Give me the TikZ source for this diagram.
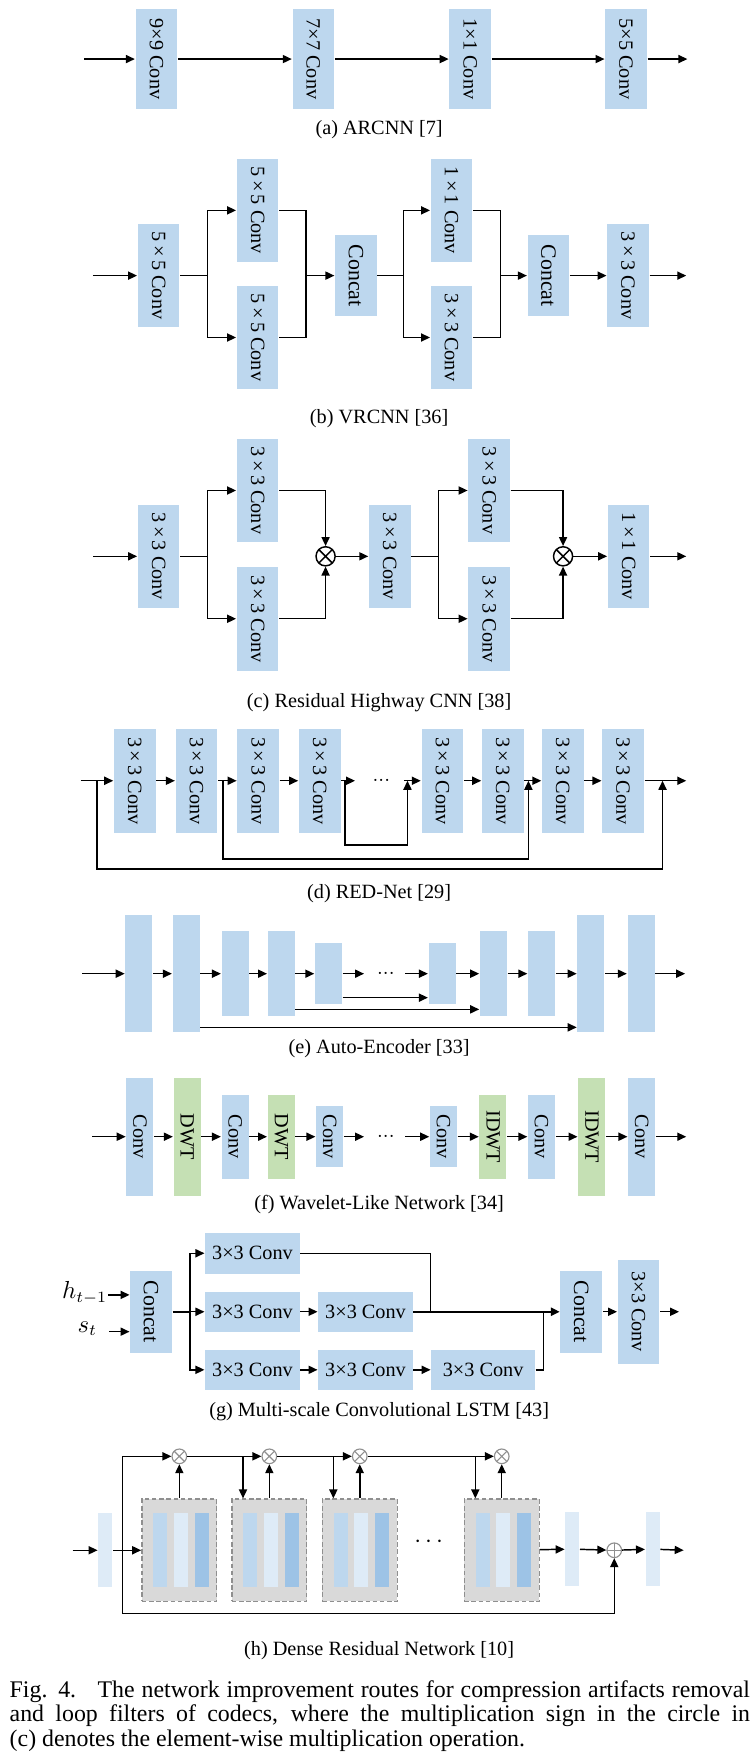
\documentclass[tikz,border=0pt]{standalone}
\usepackage{fontspec}
\setmainfont{Liberation Serif}
\usetikzlibrary{arrows.meta,calc}
\definecolor{cblue}{HTML}{BDD7EE}
\definecolor{cgreen}{HTML}{C5E0B4}
\definecolor{cgray}{HTML}{D9D9D9}
\definecolor{cedge}{HTML}{8F8F8F}
\definecolor{barA}{HTML}{BDD7EE}
\definecolor{barB}{HTML}{DEEBF7}
\definecolor{barC}{HTML}{9DC3E6}
\definecolor{cpale}{HTML}{DEEBF7}
\tikzset{
  arr/.style={-{Triangle[length=4pt,width=3.6pt]}},
  cv/.style={fill=cblue, inner sep=0pt, minimum width=18.5pt, minimum height=46pt, font=\fontsize{9}{10}\selectfont},
  cc/.style={cv, minimum height=36.3pt, font=\fontsize{9.7}{10}\selectfont},
  slim/.style={fill=cblue, inner sep=0pt, minimum width=12pt, font=\fontsize{9}{10}\selectfont},
  slimg/.style={slim, fill=cgreen},
  hbx/.style={fill=cblue, inner sep=0pt, minimum width=42pt, minimum height=18pt, font=\fontsize{9}{10}\selectfont},
  blk/.style={draw=cedge, dash pattern=on 2pt off 1.2pt, fill=cgray, line width=0.6pt, inner sep=0pt, minimum width=33.3pt, minimum height=45.5pt},
  bar/.style={inner sep=0pt, minimum width=6.2pt, minimum height=33pt},
  pl/.style={fill=cpale, inner sep=0pt, minimum width=6.2pt, minimum height=33pt},
  otimes/.style={circle, draw=#1, inner sep=0pt, minimum size=8.5pt, path picture={\draw[#1] (path picture bounding box.north east) -- (path picture bounding box.south west) (path picture bounding box.north west) -- (path picture bounding box.south east);}},
  otimes/.default=black,
  oplus/.style={circle, draw=#1, inner sep=0pt, minimum size=6pt, path picture={\draw[#1] (path picture bounding box.north) -- (path picture bounding box.south) (path picture bounding box.west) -- (path picture bounding box.east);}},
  oplus/.default=black,
  subcap/.style={font=\fontsize{9}{10}\selectfont, inner sep=0pt},
  dotsn/.style={font=\fontsize{9}{10}\selectfont, inner sep=0pt},
}
\begin{document}
\begin{tikzpicture}[x=0.5pt,y=-0.5pt,line width=0.65pt]
\useasboundingbox (0,0) rectangle (672,1568);

% ---------------- (a)
\node[cv, minimum height=44.5pt] (a1) at (139,52.5) {\rotatebox{-90}{9×9 Conv}};
\node[cv, minimum height=44.5pt] (a2) at (278.5,52.5) {\rotatebox{-90}{7×7 Conv}};
\node[cv, minimum height=44.5pt] (a3) at (418,52.5) {\rotatebox{-90}{1×1 Conv}};
\node[cv, minimum height=44.5pt] (a4) at (556.5,52.5) {\rotatebox{-90}{5×5 Conv}};
\coordinate (ain) at (75,52.5);
\coordinate (aout) at (611,52.5);
\draw[arr] (ain) -- (a1);
\draw[arr] (a1) -- (a2);
\draw[arr] (a2) -- (a3);
\draw[arr] (a3) -- (a4);
\draw[arr] (a4) -- (aout);
\node[subcap] (capa) at (337,115) {(a) ARCNN [7]};

% ---------------- (b)
\node[cv] (b1) at (141,245) {\rotatebox{-90}{5\,×\,5 Conv}};
\node[cv] (b2) at (229,187) {\rotatebox{-90}{5\,×\,5 Conv}};
\node[cv] (b3) at (229,300) {\rotatebox{-90}{5\,×\,5 Conv}};
\node[cc] (b4) at (316.4,245) {\rotatebox{-90}{Concat}};
\node[cv] (b5) at (401.4,187) {\rotatebox{-90}{1\,×\,1 Conv}};
\node[cv] (b6) at (401.4,300) {\rotatebox{-90}{3\,×\,3 Conv}};
\node[cc] (b7) at (487.5,245) {\rotatebox{-90}{Concat}};
\node[cv] (b8) at (558.3,245) {\rotatebox{-90}{3\,×\,3 Conv}};
\coordinate (bin) at (82.5,245);
\coordinate (bs1) at (184.5,245);
\coordinate (bm1) at (272,245);
\coordinate (bs2) at (358.6,245);
\coordinate (bm2) at (445,245);
\coordinate (bout) at (610,245);
\draw[arr] (bin) -- (b1);
\draw (b1) -- (bs1);
\draw[arr] (bs1) |- (b2);
\draw[arr] (bs1) |- (b3);
\draw (b2) -| (bm1);
\draw (b3) -| (bm1);
\draw[arr] (bm1) -- (b4);
\draw (b4) -- (bs2);
\draw[arr] (bs2) |- (b5);
\draw[arr] (bs2) |- (b6);
\draw (b5) -| (bm2);
\draw (b6) -| (bm2);
\draw[arr] (bm2) -- (b7);
\draw[arr] (b7) -- (b8);
\draw[arr] (b8) -- (bout);
\node[subcap] (capb) at (337,372) {(b) VRCNN [36]};

% ---------------- (c)
\node[cv] (c1) at (141,494.5) {\rotatebox{-90}{3\,×\,3 Conv}};
\node[cv] (c2) at (229,436) {\rotatebox{-90}{3\,×\,3 Conv}};
\node[cv] (c3) at (229,550) {\rotatebox{-90}{3\,×\,3 Conv}};
\node[otimes] (ot1) at (289.4,494.5) {};
\node[cv] (c4) at (346.5,494.5) {\rotatebox{-90}{3\,×\,3 Conv}};
\node[cv] (c5) at (434.8,436) {\rotatebox{-90}{3\,×\,3 Conv}};
\node[cv] (c6) at (434.8,550) {\rotatebox{-90}{3\,×\,3 Conv}};
\node[otimes] (ot2) at (500.5,494.5) {};
\node[cv] (c7) at (558.8,494.5) {\rotatebox{-90}{1\,×\,1 Conv}};
\coordinate (cin) at (83,494.5);
\coordinate (cs1) at (184.5,494.5);
\coordinate (cs2) at (390,494.5);
\coordinate (cout) at (610,494.5);
\draw[arr] (cin) -- (c1);
\draw (c1) -- (cs1);
\draw[arr] (cs1) |- (c2);
\draw[arr] (cs1) |- (c3);
\draw[arr] (c2) -| (ot1);
\draw[arr] (c3) -| (ot1);
\draw[arr] (ot1) -- (c4);
\draw (c4) -- (cs2);
\draw[arr] (cs2) |- (c5);
\draw[arr] (cs2) |- (c6);
\draw[arr] (c5) -| (ot2);
\draw[arr] (c6) -| (ot2);
\draw[arr] (ot2) -- (c7);
\draw[arr] (c7) -- (cout);
\node[subcap] (capc) at (337,625) {(c) Residual Highway CNN [38]};

% ---------------- (d)
\foreach \n/\x in {d1/119.8,d2/174.6,d3/229.5,d4/284.2,d5/393.2,d6/446.9,d7/500.3,d8/553.8}{
  \node[cv] (\n) at (\x,694) {\rotatebox{-90}{3\,×\,3 Conv}};
}
\coordinate (din) at (71.6,694);
\coordinate (dd1) at (315.6,694);
\node[dotsn] (ddots) at (339,694) {${\cdotp}{\cdotp}{\cdotp}$};
\coordinate (dd2) at (359,694);
\coordinate (dout) at (610,694);
\draw[arr] (din) -- (d1);
\draw[arr] (d1) -- (d2);
\draw[arr] (d2) -- (d3);
\draw[arr] (d3) -- (d4);
\draw[arr] (d4) -- (dd1);
\draw[arr] (dd2) -- (d5);
\draw[arr] (d5) -- (d6);
\draw[arr] (d6) -- (d7);
\draw[arr] (d7) -- (d8);
\draw[arr] (d8) -- (dout);
\coordinate (k1a) at (306.5,694);
\coordinate (k1b) at (362.2,694);
\coordinate (k2a) at (198.2,694);
\coordinate (k2b) at (469.7,694);
\coordinate (k3a) at (86.1,694);
\coordinate (k3b) at (588.9,694);
\draw[arr] (k1a) -- ++(0,57) -| (k1b);
\draw[arr] (k2a) -- ++(0,69.6) -| (k2b);
\draw[arr] (k3a) -- ++(0,78.5) -| (k3b);
\node[subcap] (capd) at (337,794) {(d) RED-Net [29]};

% ---------------- (e)
\node[slim, minimum height=52pt] (e1) at (123.5,865.5) {};
\node[slim, minimum height=52pt] (e2) at (165.4,865.5) {};
\node[slim, minimum height=38pt] (e3) at (209,865.5) {};
\node[slim, minimum height=38pt] (e4) at (250,865.5) {};
\node[slim, minimum height=27pt] (e5) at (292,865.5) {};
\node[slim, minimum height=27pt] (e6) at (393,865.5) {};
\node[slim, minimum height=38pt] (e7) at (438.6,865.5) {};
\node[slim, minimum height=38pt] (e8) at (481.4,865.5) {};
\node[slim, minimum height=52pt] (e9) at (525.3,865.5) {};
\node[slim, minimum height=52pt] (e10) at (569.8,865.5) {};
\coordinate (ein) at (73.3,865.5);
\coordinate (ed1) at (323.6,865.5);
\node[dotsn] (edots) at (343,865.5) {${\cdotp}{\cdotp}{\cdotp}$};
\coordinate (ed2) at (360.4,865.5);
\coordinate (eout) at (609,865.5);
\draw[arr] (ein) -- (e1);
\draw[arr] (e1) -- (e2);
\draw[arr] (e2) -- (e3);
\draw[arr] (e3) -- (e4);
\draw[arr] (e4) -- (e5);
\draw[arr] (e5) -- (ed1);
\draw[arr] (ed2) -- (e6);
\draw[arr] (e6) -- (e7);
\draw[arr] (e7) -- (e8);
\draw[arr] (e8) -- (e9);
\draw[arr] (e9) -- (e10);
\draw[arr] (e10) -- (eout);
\coordinate (ey1) at (0,886.8);
\coordinate (ey2) at (0,897.2);
\coordinate (ey3) at (0,913.2);
\draw[arr] (e5.east |- ey1) -- (e6.west |- ey1);
\draw[arr] (e4.east |- ey2) -- (e7.west |- ey2);
\draw[arr] (e2.east |- ey3) -- (e9.west |- ey3);
\node[subcap] (cape) at (337,932) {(e) Auto-Encoder [33]};

% ---------------- (f)
\node[slim, minimum height=52.5pt] (f1) at (124.4,1010.4) {\rotatebox{-90}{Conv}};
\node[slimg, minimum height=52.5pt] (f2) at (166.3,1010.4) {\rotatebox{-90}{DWT}};
\node[slim, minimum height=37.5pt] (f3) at (209,1010.4) {\rotatebox{-90}{Conv}};
\node[slimg, minimum height=37.5pt] (f4) at (250,1010.4) {\rotatebox{-90}{DWT}};
\node[slim, minimum height=27pt] (f5) at (293,1010.4) {\rotatebox{-90}{Conv}};
\node[slim, minimum height=27pt] (f6) at (394.2,1010.4) {\rotatebox{-90}{Conv}};
\node[slimg, minimum height=37.5pt] (f7) at (438.2,1010.4) {\rotatebox{-90}{IDWT}};
\node[slim, minimum height=37.5pt] (f8) at (481.4,1010.4) {\rotatebox{-90}{Conv}};
\node[slimg, minimum height=52.5pt] (f9) at (526,1010.4) {\rotatebox{-90}{IDWT}};
\node[slim, minimum height=52.5pt] (f10) at (570.4,1010.4) {\rotatebox{-90}{Conv}};
\coordinate (fin) at (81.8,1010.4);
\coordinate (fd1) at (323.6,1010.4);
\node[dotsn] (fdots) at (343,1010.4) {${\cdotp}{\cdotp}{\cdotp}$};
\coordinate (fd2) at (360.4,1010.4);
\coordinate (fout) at (610,1010.4);
\draw[arr] (fin) -- (f1);
\draw[arr] (f1) -- (f2);
\draw[arr] (f2) -- (f3);
\draw[arr] (f3) -- (f4);
\draw[arr] (f4) -- (f5);
\draw[arr] (f5) -- (fd1);
\draw[arr] (fd2) -- (f6);
\draw[arr] (f6) -- (f7);
\draw[arr] (f7) -- (f8);
\draw[arr] (f8) -- (f9);
\draw[arr] (f9) -- (f10);
\draw[arr] (f10) -- (fout);
\node[subcap] (capf) at (337,1071) {(f) Wavelet-Like Network [34]};

% ---------------- (g)
\node[cc] (gc1) at (134.3,1166) {\rotatebox{-90}{Concat}};
\node[anchor=east, inner sep=0pt, font=\fontsize{10.5}{12}\selectfont] (ht) at (96,1149) {$h_{t-1}$};
\node[anchor=east, inner sep=0pt, font=\fontsize{10.5}{12}\selectfont] (st) at (87,1181) {$s_t$};
\draw[arr] (ht.east |- 0,1151) -- (gc1.west |- 0,1151);
\draw[arr] ([xshift=5pt]st.east |- 0,1183.7) -- (gc1.west |- 0,1183.7);
\node[hbx] (g1) at (224.4,1114) {3×3 Conv};
\node[hbx] (g2) at (224.4,1166) {3×3 Conv};
\node[hbx] (g3) at (324.9,1166) {3×3 Conv};
\node[hbx] (g4) at (224.4,1217.6) {3×3 Conv};
\node[hbx] (g5) at (324.9,1217.6) {3×3 Conv};
\node[hbx, minimum width=46pt] (g6) at (429.4,1217.6) {3×3 Conv};
\node[cc] (gc2) at (516.7,1166) {\rotatebox{-90}{Concat}};
\node[cv] (g7) at (567.6,1166) {\rotatebox{-90}{3×3 Conv}};
\coordinate (gs) at (168.9,1166);
\coordinate (gm1) at (382.6,1166);
\coordinate (gm2) at (483.1,1166);
\coordinate (gout) at (603.6,1166);
\draw[line width=1.1pt] (gc1) -- (gs);
\draw[arr] (gs) |- (g1);
\draw[arr] (gs) -- (g2);
\draw[arr] (gs) |- (g4);
\draw[arr] (g2) -- (g3);
\draw[arr] (g4) -- (g5);
\draw[arr] (g5) -- (g6);
\draw[arr, line width=1pt] (g3) -- (gc2);
\draw (g1) -| (gm1);
\draw (g6) -| (gm2);
\draw[arr] (gc2) -- (g7);
\draw[arr] (g7) -- (gout);
\node[subcap] (capg) at (337,1255) {(g) Multi-scale Convolutional LSTM [43]};

% ---------------- (h)
\node[pl] (hb1) at (93.6,1378) {};
\foreach \n/\x in {h1/159.4,h2/239.4,h3/319.8,h4/446}{
  \node[blk] (\n) at (\x,1378) {};
  \node[bar, fill=barA] (\n-a) at (\x-17,1378) {};
  \node[bar, fill=barB] (\n-b) at (\x+1.5,1378) {};
  \node[bar, fill=barC] (\n-c) at (\x+20,1378) {};
}
\node[otimes=cedge, minimum size=6.5pt, line width=0.5pt] (o1) at (159.4,1294.5) {};
\node[otimes=cedge, minimum size=6.5pt, line width=0.5pt] (o2) at (239.4,1294.5) {};
\node[otimes=cedge, minimum size=6.5pt, line width=0.5pt] (o3) at (319.8,1294.5) {};
\node[otimes=cedge, minimum size=6.5pt, line width=0.5pt] (o4) at (446,1294.5) {};
\node[dotsn, font=\fontsize{11}{12}\selectfont] (hdots) at (381,1371) {${\cdot}\,{\cdot}\,{\cdot}$};
\node[pl] (hb2) at (508.7,1377) {};
\node[oplus=cedge, minimum size=6.5pt, line width=0.5pt] (hplus) at (546,1378) {};
\node[pl] (hb3) at (580.2,1377) {};
\coordinate (hin) at (64.6,1378);
\coordinate (hs) at (109,1378);
\coordinate (hout) at (607.7,1378);
\coordinate (hd2) at (216,1294.5);
\coordinate (hd3) at (296.3,1294.5);
\coordinate (hd4) at (422.5,1294.5);
\draw[arr] (hin) -- (hb1);
\draw[arr] (hb1) -- (h1);
\draw[arr] (hs) |- (o1);
\draw[arr] (hs) -- ++(0,56) -| (hplus);
\draw[arr] (o1) -- (o2);
\draw[arr] (o2) -- (o3);
\draw[arr] (o3) -- (o4);
\draw[arr] (h1.north) -- (o1);
\draw[arr] (h2.north) -- (o2);
\draw[arr] (h3.north) -- (o3);
\draw[arr] (h4.north) -- (o4);
\draw[arr] (hd2) -- (hd2 |- h2.north);
\draw[arr] (hd3) -- (hd3 |- h3.north);
\draw[arr] (hd4) -- (hd4 |- h4.north);
\draw[arr] (h4) -- (hb2);
\draw[arr] (hb2) -- (hplus);
\draw[arr] (hplus) -- (hb3);
\draw[arr] (hb3) -- (hout);
\node[subcap] (caph) at (337,1467) {(h) Dense Residual Network [10]};

% ---------------- caption
\node[anchor=north west, inner sep=0pt, text width=329pt, align=justify, font=\fontsize{10.6}{11}\selectfont] (fig) at (8,1493) {Fig. 4.\hspace{0.9em}The network improvement routes for compression artifacts removal\linebreak and loop filters of codecs, where the multiplication sign in the circle in\linebreak (c) denotes the element-wise multiplication operation.};
\end{tikzpicture}
\end{document}
